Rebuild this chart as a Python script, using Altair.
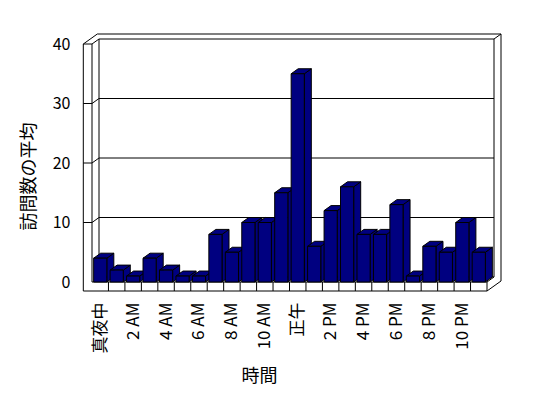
import json
import altair as alt
import pandas as pd

# ---- data ----
hours = list(range(24))
visits = [4, 2, 1, 4, 2, 1, 1, 8, 5, 10, 10, 15, 35, 6, 12, 16, 8, 8, 13, 1, 6, 5, 10, 5]
tick_labels = ["真夜中", "2 AM", "4 AM", "6 AM", "8 AM", "10 AM",
               "正午", "2 PM", "4 PM", "6 PM", "8 PM", "10 PM"]
y_ticks = [0, 10, 20, 30, 40]
grid_values = [10, 20, 30]

# ---- geometry (styling) ----
X_MAX, Y_MAX = 24, 40
W, H = 395, 238
PX_X, PX_Y = W / X_MAX, H / Y_MAX
DX, DY = 7 / PX_X, 5 / PX_Y          # 3-D depth in data units
LW = 8.7 / PX_X                       # left wall thickness
FT = 9 / PX_Y                         # floor thickness
GAP = 0.1
NAVY = "#000080"
FONT = "Noto Sans CJK JP"

xs = alt.Scale(domain=[0, X_MAX], nice=False, zero=False)
ys = alt.Scale(domain=[0, Y_MAX], nice=False, zero=False)

label_expr = json.dumps(tick_labels, ensure_ascii=False) + "[floor(datum.value / 2)]"

x_axis = alt.Axis(
    values=[i + 0.5 for i in range(0, 24, 2)],
    labelExpr=label_expr,
    labelAngle=270, labelPadding=20, labelFlush=False, labelOverlap=False,
    labelBound=False, labelFont=FONT, labelFontSize=17, labelColor="black",
    domain=False, ticks=False, grid=False,
    title="時間", titleFont=FONT, titleFontSize=18, titleFontWeight="normal",
    titleColor="black", titleX=167, titleY=94, titleAlign="center",
    titleBaseline="middle",
)
y_axis = alt.Axis(
    values=y_ticks, labelPadding=22, labelFlush=False, labelOverlap=False,
    labelFont=FONT, labelFontSize=16, labelColor="black",
    domain=False, ticks=False, grid=False,
    title="訪問数の平均", titleFont=FONT, titleFontSize=18,
    titleFontWeight="normal", titleColor="black", titleX=-63, titleY=132,
    titleAngle=270, titleAlign="center", titleBaseline="middle",
)

# frame segments
segs = [
    (-LW, -FT, -LW, Y_MAX),
    (0, 0, 0, Y_MAX),
    (-LW, Y_MAX, 0, Y_MAX),
    (-LW, Y_MAX, -LW + 2 * DX, Y_MAX + 2 * DY),
    (0, Y_MAX, DX, Y_MAX + DY),
    (-LW + 2 * DX, Y_MAX + 2 * DY, X_MAX + 2 * DX, Y_MAX + 2 * DY),
    (DX, Y_MAX + DY, X_MAX + DX, Y_MAX + DY),
    (DX, DY, DX, Y_MAX + DY),
    (X_MAX + DX, DY, X_MAX + DX, Y_MAX + DY),
    (X_MAX + 2 * DX, -FT + 2 * DY, X_MAX + 2 * DX, Y_MAX + 2 * DY),
    (X_MAX + DX, Y_MAX + DY, X_MAX + 2 * DX, Y_MAX + 2 * DY),
    (0, 0, X_MAX, 0),
    (-LW, -FT, X_MAX, -FT),
    (X_MAX, -FT, X_MAX, 0),
    (X_MAX, -FT, X_MAX + 2 * DX, -FT + 2 * DY),
    (X_MAX, 0, X_MAX + DX, DY),
    (DX, DY, X_MAX + DX, DY),
]
for g in grid_values:
    segs.append((DX, g + DY, X_MAX + DX, g + DY))
    segs.append((-LW, g, 0, g))
    segs.append((0, g, DX, g + DY))
for k in range(1, X_MAX):
    segs.append((k, -FT, k, 0))
frame_df = pd.DataFrame(segs, columns=["x", "y", "x2", "y2"])

frame = alt.Chart(frame_df).mark_rule(color="black", strokeWidth=1).encode(
    x=alt.X("x:Q", scale=xs, axis=x_axis),
    y=alt.Y("y:Q", scale=ys, axis=y_axis),
    x2="x2:Q",
    y2="y2:Q",
)

# bar faces
side_rows, top_rows, front_rows = [], [], []
for h, v in zip(hours, visits):
    x0, x1 = h + GAP, h + 1 - GAP
    front_rows.append({"h": h, "x0": x0, "x1": x1, "v": v})
    side_rows.append({"h": h, "x": x1, "y": 0, "y2": v})
    side_rows.append({"h": h, "x": x1 + DX, "y": DY, "y2": v + DY})
    top_rows.append({"h": h, "y": v, "x": x0, "x2": x1})
    top_rows.append({"h": h, "y": v + DY, "x": x0 + DX, "x2": x1 + DX})

sides = alt.Chart(pd.DataFrame(side_rows)).mark_area(
    orient="vertical", fill=NAVY, stroke="black", strokeWidth=1, opacity=1
).encode(
    x=alt.X("x:Q", scale=xs, axis=x_axis),
    y=alt.Y("y:Q", scale=ys, axis=y_axis),
    y2="y2:Q",
    detail="h:O",
)

tops = alt.Chart(pd.DataFrame(top_rows)).mark_area(
    orient="horizontal", fill=NAVY, stroke="black", strokeWidth=1, opacity=1
).encode(
    y=alt.Y("y:Q", scale=ys, axis=y_axis),
    x=alt.X("x:Q", scale=xs, axis=x_axis),
    x2="x2:Q",
    detail="h:O",
)

fronts = alt.Chart(pd.DataFrame(front_rows)).mark_bar(
    fill=NAVY, stroke="black", strokeWidth=1
).encode(
    x=alt.X("x0:Q", scale=xs, axis=x_axis),
    x2="x1:Q",
    y=alt.Y("v:Q", scale=ys, axis=y_axis),
    y2=alt.datum(0),
)

chart = alt.layer(frame, sides, tops, fronts).properties(
    width=W,
    height=H,
    autosize=alt.AutoSizeParams(type="none"),
    padding={"left": 92, "top": 44, "right": 548 - 92 - W, "bottom": 398 - 44 - H},
    background="white",
).configure_view(stroke=None)

chart.save("out.html", embed_options={"renderer": "svg", "actions": False})
